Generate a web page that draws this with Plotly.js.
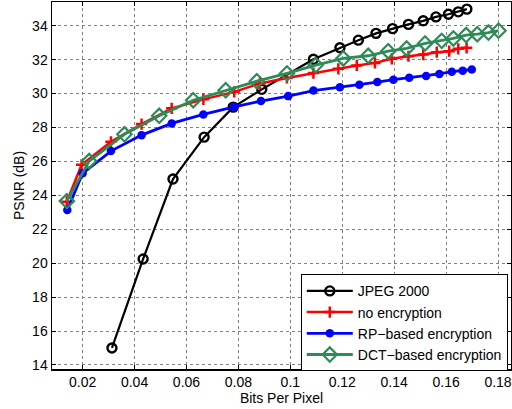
<!DOCTYPE html>
<html>
<head>
<meta charset="utf-8">
<script src="https://cdn.plot.ly/plotly-3.0.1.min.js"></script>
<style>html,body{margin:0;padding:0;background:#fff;}#chart{width:512px;height:409px;}</style>
</head>
<body>
<div id="chart"></div>
<script>
// JPEG 2000
const jpegX = [0.0313, 0.0433, 0.0548, 0.0668, 0.0780, 0.0890, 0.1089, 0.1191, 0.1262, 0.1330, 0.1394, 0.1455, 0.1512, 0.1561, 0.1609, 0.1647, 0.1680];
const jpegY = [15.0, 20.25, 24.96, 27.43, 29.2, 30.25, 32.02, 32.7, 33.15, 33.55, 33.83, 34.08, 34.29, 34.52, 34.68, 34.82, 34.98];
// no encryption
const noEncX = [0.0139, 0.0196, 0.0309, 0.0427, 0.0543, 0.0665, 0.0784, 0.0883, 0.0987, 0.1089, 0.1185, 0.1256, 0.1326, 0.1391, 0.1455, 0.1512, 0.1564, 0.1612, 0.1647, 0.1679];
const noEncY = [23.62, 25.8, 27.16, 28.2, 29.13, 29.66, 30.1, 30.6, 30.92, 31.21, 31.46, 31.66, 31.81, 32.05, 32.2, 32.3, 32.44, 32.5, 32.64, 32.7];
// RP-based encryption
const rpX = [0.0141, 0.0200, 0.0309, 0.0427, 0.0543, 0.0665, 0.0784, 0.0887, 0.0992, 0.1089, 0.1191, 0.1266, 0.1335, 0.1397, 0.1458, 0.1523, 0.1574, 0.1622, 0.1664, 0.1699];
const rpY = [23.13, 25.3, 26.61, 27.55, 28.24, 28.77, 29.22, 29.56, 29.85, 30.18, 30.38, 30.52, 30.68, 30.82, 30.94, 31.03, 31.16, 31.29, 31.34, 31.42];
// DCT-based encryption
const dctX = [0.0139, 0.0225, 0.0361, 0.0495, 0.0626, 0.0751, 0.0871, 0.0987, 0.1098, 0.1204, 0.1300, 0.1377, 0.1448, 0.1519, 0.1583, 0.1628, 0.1677, 0.1720, 0.1763, 0.1802];
const dctY = [23.66, 26.02, 27.6, 28.69, 29.61, 30.2, 30.73, 31.19, 31.68, 32.07, 32.23, 32.5, 32.66, 32.96, 33.11, 33.25, 33.45, 33.5, 33.6, 33.71];

const seriesNames = ['JPEG 2000', 'no encryption', 'RP\u2212based encryption', 'DCT\u2212based encryption'];
const xTicks = [0.02, 0.04, 0.06, 0.08, 0.1, 0.12, 0.14, 0.16, 0.18];
const xTickText = ['0.02', '0.04', '0.06', '0.08', '0.1', '0.12', '0.14', '0.16', '0.18'];
const yTicks = [14, 16, 18, 20, 22, 24, 26, 28, 30, 32, 34];

const FONT = 'Liberation Sans, Arial, Helvetica, sans-serif';

const traces = [
  {x: jpegX, y: jpegY, name: seriesNames[0], mode: 'lines+markers',
   line: {color: '#000000', width: 2.2},
   marker: {symbol: 'circle-open', size: 9, color: '#000000', line: {width: 2.4, color: '#000000'}}},
  {x: noEncX, y: noEncY, name: seriesNames[1], mode: 'lines+markers',
   line: {color: '#ff0000', width: 2.5},
   marker: {symbol: 'cross-thin-open', size: 8, color: '#ff0000', line: {width: 2.5, color: '#ff0000'}}},
  {x: rpX, y: rpY, name: seriesNames[2], mode: 'lines+markers',
   line: {color: '#0000ff', width: 2.8},
   marker: {symbol: 'circle', size: 8.5, color: '#0000ff'}},
  {x: dctX, y: dctY, name: seriesNames[3], mode: 'lines+markers',
   line: {color: '#2e8b57', width: 2.8},
   marker: {symbol: 'diamond-open', size: 11, color: '#2e8b57', line: {width: 2.2, color: '#2e8b57'}}}
];

const axisCommon = {
  showline: true, linecolor: '#000000', linewidth: 1.5, mirror: 'ticks',
  ticks: 'inside', ticklen: 4, tickcolor: '#000000', tickwidth: 1,
  showgrid: true, gridcolor: '#808080', griddash: 'dot', gridwidth: 1,
  zeroline: false,
  tickfont: {family: FONT, size: 14, color: '#000000'}
};

const layout = {
  width: 512, height: 409,
  margin: {l: 52, r: 1, t: 2, b: 40},
  paper_bgcolor: '#ffffff', plot_bgcolor: '#ffffff',
  font: {family: FONT, size: 14, color: '#000000'},
  showlegend: true,
  xaxis: Object.assign({}, axisCommon, {
    range: [0.0082, 0.185], tickvals: xTicks, ticktext: xTickText, automargin: false,
    title: {text: 'Bits Per Pixel', standoff: 2, font: {family: FONT, size: 14}}
  }),
  yaxis: Object.assign({}, axisCommon, {
    range: [13.76, 35.4], tickvals: yTicks, automargin: false,
    title: {text: 'PSNR (dB)', standoff: 4, font: {family: FONT, size: 14}}
  }),
  legend: {
    x: 0.542, y: 0.258, xanchor: 'left', yanchor: 'top',
    bgcolor: '#ffffff', bordercolor: '#000000', borderwidth: 1,
    font: {family: FONT, size: 14, color: '#000000'},
    tracegroupgap: 0, itemwidth: 46
  }
};

Plotly.newPlot('chart', traces, layout, {displayModeBar: false, staticPlot: true});
</script>
</body>
</html>
